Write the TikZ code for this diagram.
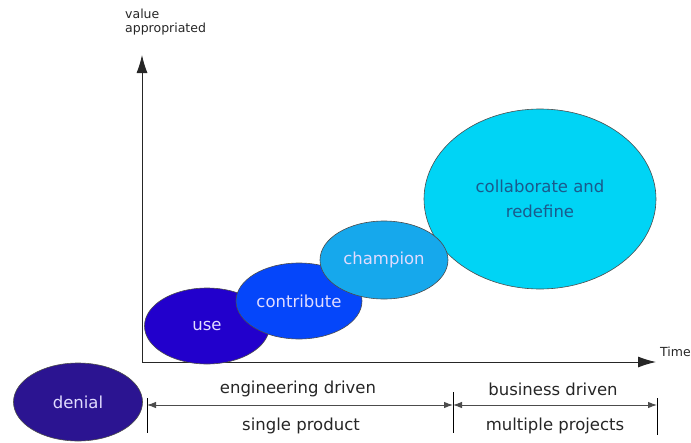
\documentclass[tikz,border=0pt]{standalone}
\usepackage{fontspec}
\setmainfont{DejaVu Sans}
\usetikzlibrary{shapes.geometric,arrows.meta}

\definecolor{denialblue}{RGB}{43,20,145}
\definecolor{useblue}{RGB}{34,0,204}
\definecolor{contribblue}{RGB}{5,70,250}
\definecolor{champblue}{RGB}{22,168,236}
\definecolor{collabcyan}{RGB}{0,212,245}
\definecolor{paletext}{RGB}{225,220,255}
\definecolor{darktext}{RGB}{26,90,140}

\tikzset{
  stage/.style={ellipse, draw=black!70, line width=0.6pt, text=paletext,
    font=\fontsize{16.5}{19}\selectfont, inner sep=0pt},
  axis/.style={line width=0.9pt, draw=black!85, -{Latex[length=18pt,width=11pt]}},
  span/.style={line width=0.9pt, draw=black!70, {Latex[length=9pt,width=6.5pt]}-{Latex[length=9pt,width=6.5pt]}},
  tick/.style={line width=0.9pt, draw=black},
  lbl/.style={font=\fontsize{16.5}{19}\selectfont, text=black!85}
}

\begin{document}
\begin{tikzpicture}[x=1pt,y=-1pt]
		\useasboundingbox (0,0) rectangle (691,442);
		
		% Axes
		\coordinate (origin) at (142,362);
		\coordinate (ytip) at (142,55);
		\coordinate (xtip) at (656,362);
		\draw[axis] (origin) -- (ytip);
		\draw[axis] (origin) -- (xtip);
		\node[anchor=north west, align=left, inner sep=0pt, font=\fontsize{12.5}{14}\selectfont, text=black!85] (ylabel) at (125,9) {value\\appropriated};
		\node[anchor=west, inner sep=0pt, font=\fontsize{12.5}{14}\selectfont, text=black!85] (xlabel) at (660,352) {Time};
		
		% Stages
		\node[stage, fill=collabcyan, text=darktext, font=\fontsize{16.5}{25}\selectfont, minimum width=232pt, minimum height=180pt, align=center] (collab) at (540,199) {collaborate and\\redefine};
		\node[stage, fill=useblue, minimum width=125pt, minimum height=76pt] (use) at (207,326) {use};
		\node[stage, fill=contribblue, minimum width=126pt, minimum height=76pt] (contrib) at (299,301) {contribute};
		\node[stage, fill=champblue, minimum width=128pt, minimum height=78pt] (champ) at (384,260) {champion};
		\node[stage, fill=denialblue, minimum width=129pt, minimum height=78pt] (denial) at (78,402) {denial};
		
		% Ticks
		\coordinate (t1a) at (147,398);
		\coordinate (t1b) at (147,433);
		\coordinate (t2a) at (453,392);
		\coordinate (t2b) at (453,433);
		\coordinate (t3a) at (657,398);
		\coordinate (t3b) at (657,435);
		\draw[tick] (t1a) -- (t1b);
		\draw[tick] (t2a) -- (t2b);
		\draw[tick] (t3a) -- (t3b);
		
		% Spans
		\coordinate (s1) at (147,405);
		\coordinate (s2) at (453,405);
		\coordinate (s3) at (657,405);
		\draw[span] (s1) -- (s2);
		\draw[span] (s2) -- (s3);
		\node[lbl] (eng) at (298,389) {engineering driven};
		\node[lbl] (single) at (301,426) {single product};
		\node[lbl] (biz) at (553,389) {business driven};
		\node[lbl] (multi) at (555,426) {multiple projects};
	\end{tikzpicture}
\end{document}
